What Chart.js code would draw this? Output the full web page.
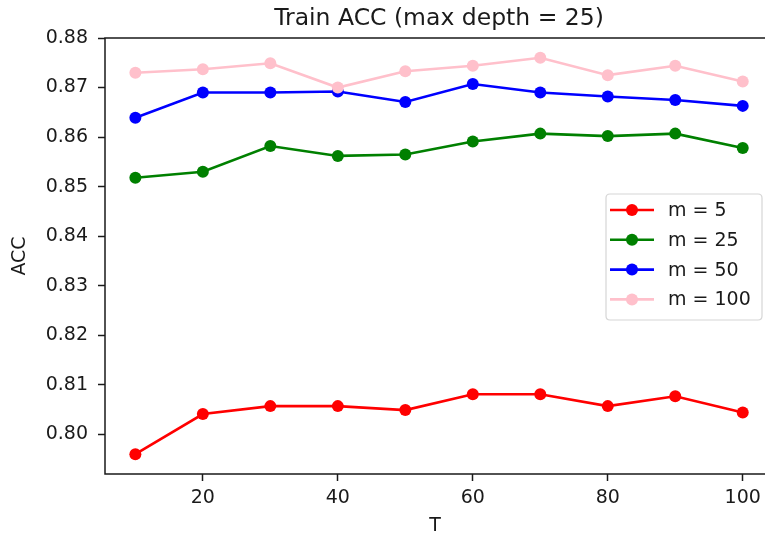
<!DOCTYPE html>
<html>
<head>
<meta charset="utf-8">
<script src="https://cdn.jsdelivr.net/npm/chart.js@4"></script>
<style>
  html, body { margin: 0; padding: 0; background: #fff; overflow: hidden; width: 765px; height: 537px; }
  canvas { display: block; }
</style>
</head>
<body>
<canvas id="c" width="765" height="537"></canvas>
<script>
// ---- data ----
const T = [10, 20, 30, 40, 50, 60, 70, 80, 90, 100];
const seriesLabels = ['m = 5', 'm = 25', 'm = 50', 'm = 100'];
const m5   = [0.7960, 0.8041, 0.8057, 0.8057, 0.8049, 0.8081, 0.8081, 0.8057, 0.8077, 0.8044];
const m25  = [0.8518, 0.8530, 0.8582, 0.8562, 0.8565, 0.8591, 0.8607, 0.8602, 0.8607, 0.8578];
const m50  = [0.8639, 0.8690, 0.8690, 0.8692, 0.8671, 0.8707, 0.8690, 0.8682, 0.8675, 0.8663];
const m100 = [0.8730, 0.8737, 0.8749, 0.8700, 0.8733, 0.8744, 0.8760, 0.8725, 0.8744, 0.8712];
const xTicks = [20, 40, 60, 80, 100];
const yTicks = [0.80, 0.81, 0.82, 0.83, 0.84, 0.85, 0.86, 0.87, 0.88];
const titleText = 'Train ACC (max depth = 25)';
const xLabel = 'T';
const yLabel = 'ACC';

const colors = ['#ff0000', '#008000', '#0000ff', '#ffc0cb'];
const allSeries = [m5, m25, m50, m100];
const FONT = 'DejaVu Sans';
const TXT = '#1a1a1a';

function pts(vals) { return T.map((t, i) => ({ x: t, y: vals[i] })); }

const datasets = allSeries.map((vals, i) => ({
  label: seriesLabels[i],
  data: pts(vals),
  borderColor: colors[i],
  backgroundColor: colors[i],
  pointBackgroundColor: colors[i],
  pointBorderColor: colors[i],
  borderWidth: 2.6,
  pointRadius: 6,
  pointBorderWidth: 0,
  pointHoverRadius: 6,
  tension: 0,
  clip: false,
  order: allSeries.length - i
}));

// centre the title over the axes, like matplotlib
const titleOverAxes = {
  id: 'titleOverAxes',
  afterLayout(chart) {
    const tb = chart.titleBlock, a = chart.chartArea;
    if (tb) { tb.left = a.left; tb.right = a.right + 8; tb.width = tb.right - tb.left; }
  }
};

// top / left / bottom spines (the right spine lies just beyond the picture's edge)
const frame = {
  id: 'frame',
  afterDatasetsDraw(chart) {
    const a = chart.chartArea, ctx = chart.ctx;
    ctx.save();
    ctx.strokeStyle = TXT;
    ctx.lineWidth = 1.5;
    ctx.beginPath();
    ctx.moveTo(chart.width + 2, a.top); ctx.lineTo(a.left, a.top);
    ctx.lineTo(a.left, a.bottom); ctx.lineTo(chart.width + 2, a.bottom);
    ctx.stroke();
    ctx.restore();
  }
};

const legendBox = {
  id: 'legendBox',
  afterDraw(chart) {
    const ctx = chart.ctx;
    const x0 = 606, y0 = 194, w = 156, h = 126, r = 4;
    ctx.save();
    ctx.fillStyle = 'rgba(255,255,255,0.8)';
    ctx.strokeStyle = '#d6d6d6';
    ctx.lineWidth = 1.2;
    ctx.beginPath();
    ctx.moveTo(x0 + r, y0);
    ctx.lineTo(x0 + w - r, y0); ctx.quadraticCurveTo(x0 + w, y0, x0 + w, y0 + r);
    ctx.lineTo(x0 + w, y0 + h - r); ctx.quadraticCurveTo(x0 + w, y0 + h, x0 + w - r, y0 + h);
    ctx.lineTo(x0 + r, y0 + h); ctx.quadraticCurveTo(x0, y0 + h, x0, y0 + h - r);
    ctx.lineTo(x0, y0 + r); ctx.quadraticCurveTo(x0, y0, x0 + r, y0);
    ctx.closePath();
    ctx.fill(); ctx.stroke();
    chart.data.datasets.forEach((ds, i) => {
      const yy = 210 + i * 29.8;
      ctx.strokeStyle = ds.borderColor;
      ctx.lineWidth = ds.borderWidth;
      ctx.beginPath(); ctx.moveTo(610, yy); ctx.lineTo(654, yy); ctx.stroke();
      ctx.fillStyle = ds.borderColor;
      ctx.beginPath(); ctx.arc(632, yy, 6, 0, Math.PI * 2); ctx.fill();
      ctx.fillStyle = TXT;
      ctx.font = '19px "' + FONT + '"';
      ctx.textBaseline = 'middle';
      ctx.textAlign = 'left';
      ctx.fillText(ds.label, 668, yy + 1);
    });
    ctx.restore();
  }
};

new Chart(document.getElementById('c'), {
  type: 'line',
  data: { datasets },
  options: {
    responsive: false,
    animation: false,
    devicePixelRatio: 1,
    layout: { autoPadding: false, padding: { left: 0, right: 0, top: 0, bottom: 0 } },
    plugins: {
      legend: { display: false },
      tooltip: { enabled: false },
      title: {
        display: true,
        text: titleText,
        color: TXT,
        font: { family: FONT, size: 23.5, weight: 'normal', lineHeight: 1.2 },
        padding: { top: 5, bottom: 4.8 }
      }
    },
    scales: {
      x: {
        type: 'linear',
        min: 5.5,
        max: 103.3,
        afterFit(s) { s.height = 63; s.paddingLeft = 0; s.paddingRight = 0; },
        afterBuildTicks(s) { s.ticks = xTicks.map(v => ({ value: v })); },
        ticks: {
          includeBounds: false,
          color: TXT,
          font: { family: FONT, size: 19 },
          padding: 6,
          maxRotation: 0,
          callback: v => String(v)
        },
        grid: { display: true, drawOnChartArea: false, drawTicks: true, tickLength: 7, tickColor: TXT, tickWidth: 1.5 },
        border: { display: false },
        title: { display: true, text: xLabel, color: TXT, font: { family: FONT, size: 19 }, padding: { top: 4, bottom: 0 } }
      },
      y: {
        type: 'linear',
        min: 0.792,
        max: 0.880,
        afterFit(s) { s.width = 105; },
        afterBuildTicks(s) { s.ticks = yTicks.map(v => ({ value: v })); },
        ticks: {
          includeBounds: false,
          color: TXT,
          font: { family: FONT, size: 19 },
          padding: 10,
          callback: v => Number(v).toFixed(2)
        },
        grid: { display: true, drawOnChartArea: false, drawTicks: true, tickLength: 7, tickColor: TXT, tickWidth: 1.5 },
        border: { display: false },
        title: { display: true, text: yLabel, color: TXT, font: { family: FONT, size: 19 }, padding: { top: 9, bottom: 0 } }
      }
    }
  },
  plugins: [titleOverAxes, frame, legendBox]
});
</script>
</body>
</html>
